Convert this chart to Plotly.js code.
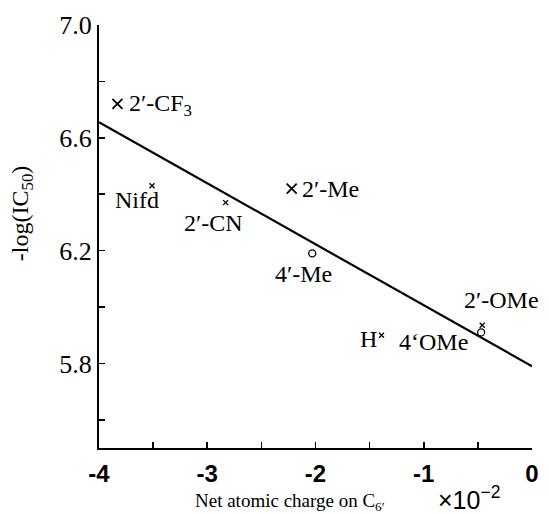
<!DOCTYPE html>
<html>
<head>
<meta charset="utf-8">
<script src="https://cdn.plot.ly/plotly-3.0.1.min.js"></script>
<style>html,body{margin:0;padding:0;background:#fff;}#chart{width:549px;height:514px;}</style>
</head>
<body>
<div id="chart"></div>
<script>
// ---- data ----
var compounds = ["2′-CF<sub>3</sub>", "Nifd", "2′-CN", "2′-Me", "4′-Me", "H", "4‘OMe", "2′-OMe"];
var charge = [-3.83, -3.51, -2.83, -2.22, -2.03, -1.39, -0.47, -0.46];   // ×10^-2
var pIC50  = [6.72, 6.43, 6.37, 6.42, 6.19, 5.90, 5.91, 5.935];
var markerKind = ["bigx", "smallx", "smallx", "bigx", "circle", "smallx", "circle", "smallx"];
var fitX = [-4, 0];
var fitY = [6.655, 5.79];
var xTickVals = [-4, -3, -2, -1, 0];
var xTickText = ["-4", "-3", "-2", "-1", "0"];
var yTickVals = [5.8, 6.2, 6.6, 7.0];
var yTickText = ["5.8", "6.2", "6.6", "7.0"];

// ---- label placement (pixel offsets from each point) ----
var labelStyle = [
  {xanchor: "left",   xshift: 10,  yshift: -1},
  {xanchor: "right",  xshift: 9,   yshift: -14},
  {xanchor: "center", xshift: -12, yshift: -20},
  {xanchor: "left",   xshift: 8,   yshift: 0},
  {xanchor: "center", xshift: -9,  yshift: -21},
  {xanchor: "right",  xshift: -3,  yshift: -4},
  {xanchor: "right",  xshift: -11, yshift: -10},
  {xanchor: "center", xshift: 19,  yshift: 25}
];

function pick(kind) {
  var xs = [], ys = [];
  for (var i = 0; i < charge.length; i++) {
    if (markerKind[i] === kind) { xs.push(charge[i]); ys.push(pIC50[i]); }
  }
  return {x: xs, y: ys};
}

var serif = "Liberation Serif, Times New Roman, serif";
var narrow = "Liberation Sans Narrow, Liberation Sans, Arial, sans-serif";
var bigx = pick("bigx"), smallx = pick("smallx"), circ = pick("circle");

var traces = [
  {x: fitX, y: fitY, mode: "lines", line: {color: "#000", width: 2.2}, hoverinfo: "skip"},
  {x: bigx.x, y: bigx.y, mode: "markers",
   marker: {symbol: "x-thin", size: 10, line: {width: 1.8, color: "#000"}}},
  {x: smallx.x, y: smallx.y, mode: "markers",
   marker: {symbol: "x-thin", size: 5, line: {width: 1.3, color: "#000"}}},
  {x: circ.x, y: circ.y, mode: "markers",
   marker: {symbol: "circle-open", size: 7, color: "#000", line: {width: 1.3, color: "#000"}}}
];

var annotations = [];
for (var i = 0; i < compounds.length; i++) {
  annotations.push({
    x: charge[i], y: pIC50[i], xref: "x", yref: "y", text: compounds[i],
    showarrow: false, xanchor: labelStyle[i].xanchor, yanchor: "middle",
    xshift: labelStyle[i].xshift, yshift: labelStyle[i].yshift,
    font: {family: serif, size: 24, color: "#000"}
  });
}
annotations.push({
  xref: "paper", yref: "paper", x: -0.178, y: 0.555, textangle: -90,
  text: "-log(IC<sub>50</sub>)", showarrow: false, xanchor: "center", yanchor: "middle",
  font: {family: serif, size: 24, color: "#000"}
});
annotations.push({
  xref: "paper", yref: "paper", x: 0.44, y: -0.128,
  text: "Net atomic charge on C<sub>6′</sub>", showarrow: false, xanchor: "center", yanchor: "middle",
  font: {family: serif, size: 19, color: "#000"}
});
annotations.push({
  xref: "paper", yref: "paper", x: 0.855, y: -0.118,
  text: "×10<sup>−2</sup>", showarrow: false, xanchor: "center", yanchor: "middle",
  font: {family: narrow, size: 25, color: "#000"}
});

var layout = {
  width: 549, height: 514,
  margin: {l: 99, r: 17, t: 25, b: 66, pad: 0},
  paper_bgcolor: "#fff", plot_bgcolor: "#fff",
  showlegend: false,
  xaxis: {
    range: [-4, 0], showgrid: false, zeroline: false,
    showline: true, linecolor: "#000", linewidth: 2,
    ticks: "inside", ticklen: 6, tickwidth: 1.6, tickcolor: "#000",
    tickmode: "array", tickvals: xTickVals, ticktext: xTickText,
    ticklabelstandoff: 3,
    tickfont: {family: narrow, size: 24, color: "#000", weight: "bold"},
    minor: {dtick: 0.5, ticks: "inside", ticklen: 6, tickwidth: 1.6, tickcolor: "#000", showgrid: false}
  },
  yaxis: {
    range: [5.5, 7.0], showgrid: false, zeroline: false,
    showline: true, linecolor: "#000", linewidth: 2,
    ticks: "inside", ticklen: 6, tickwidth: 1.6, tickcolor: "#000",
    tickmode: "array", tickvals: yTickVals, ticktext: yTickText,
    tickfont: {family: serif, size: 26, color: "#000"},
    minor: {dtick: 0.2, ticks: "inside", ticklen: 6, tickwidth: 1.6, tickcolor: "#000", showgrid: false}
  },
  annotations: annotations
};

Plotly.newPlot("chart", traces, layout, {displayModeBar: false, staticPlot: true});
</script>
</body>
</html>
